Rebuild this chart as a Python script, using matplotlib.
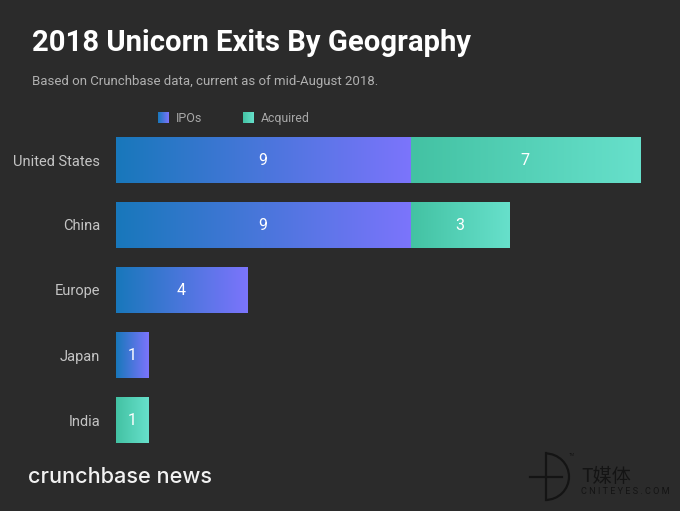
import numpy as np
import matplotlib
matplotlib.use('Agg')
import matplotlib.pyplot as plt
from matplotlib.colors import LinearSegmentedColormap
from matplotlib.patches import Arc

countries = ['United States', 'China', 'Europe', 'Japan', 'India']
ipos = [9, 9, 4, 1, 0]
acquired = [7, 3, 0, 0, 1]

BG = '#2b2b2b'
ipo_cmap = LinearSegmentedColormap.from_list('ipo', ['#1878bb', '#7c74fc'])
acq_cmap = LinearSegmentedColormap.from_list('acq', ['#43c2a3', '#67e0cb'])
ramp = np.linspace(0, 1, 256).reshape(1, -1)

W, H = 680, 511


def grad_bar(ax, left, width, y, height, cmap):
    # imshow with an extent, one stretched row of colour
    ax.imshow(ramp, cmap=cmap, aspect='auto', interpolation='bilinear',
              extent=(left, left + width, y + height / 2, y - height / 2), zorder=2)


fig = plt.figure(figsize=(W / 100, H / 100), dpi=100, facecolor=BG)
plt.rcParams['font.family'] = ['Roboto', 'DejaVu Sans']

# chart axes, one unit is 32.8 px and one row 65 px
ax = fig.add_axes([116 / W, 1 - 452.5 / H, 564 / W, 325 / H])
ax.set_facecolor('none')
bar_h = 45.5 / 65
for i, country in enumerate(countries):
    if ipos[i]:
        grad_bar(ax, 0, ipos[i], i, bar_h, ipo_cmap)
        ax.text(ipos[i] / 2 - 0.02, i + 0.015, str(ipos[i]), color='white', fontsize=11.5,
                ha='center', va='center', zorder=3)
    if acquired[i]:
        grad_bar(ax, ipos[i], acquired[i], i, bar_h, acq_cmap)
        ax.text(ipos[i] + acquired[i] / 2 - 0.02, i + 0.015, str(acquired[i]), color='white',
                fontsize=11.5, ha='center', va='center', zorder=3)
ax.set_xlim(0, 564 / 32.8)
ax.set_ylim(4.5, -0.5)
ax.set_yticks(range(len(countries)))
ax.set_yticklabels(countries, color='#c4c4c4', fontsize=10.5)
ax.set_xticks([])
ax.tick_params(axis='y', length=0, pad=11.5)
for s in ax.spines.values():
    s.set_visible(False)

# overlay in pixel coords for the header, legend and logos
ov = fig.add_axes([0, 0, 1, 1], zorder=5)
ov.set_xlim(0, W)
ov.set_ylim(H, 0)
ov.axis('off')
ov.patch.set_alpha(0)

ov.text(32, 43, '2018 Unicorn Exits By Geography', color='white', fontsize=21.1,
        fontweight='bold', ha='left', va='center')
ov.text(32, 82, 'Based on Crunchbase data, current as of mid-August 2018.',
        color='#b0b0b0', fontsize=9.55, ha='left', va='center')

ov.imshow(ramp, cmap=ipo_cmap, aspect='auto', extent=(158, 169, 123, 112))
ov.text(176, 118.5, 'IPOs', color='#a8a8a8', fontsize=9, ha='left', va='center')
ov.imshow(ramp, cmap=acq_cmap, aspect='auto', extent=(243, 254, 123, 112))
ov.text(261, 118.5, 'Acquired', color='#a8a8a8', fontsize=8.8, ha='left', va='center')
ov.set_xlim(0, W)
ov.set_ylim(H, 0)

ov.text(28, 477, 'crunchbase news', color='#f2f2f2', fontsize=15.6,
        family='Inter', fontweight='medium', ha='left', va='center')

# CNITEYES mark, drawn almost black
ink = '#141414'
ov.plot([545.5, 545.5], [453.5, 500], color=ink, lw=1.6)
ov.add_patch(Arc((545.5, 476.7), 47, 46.5, theta1=-90, theta2=90, color=ink, lw=1.6))
ov.plot([530, 562], [476.7, 476.7], color=ink, lw=1.6)
ov.text(569, 454.5, 'TM', color=ink, fontsize=3, ha='left', va='center')
ov.text(581, 476, 'T媒体', color=ink, fontsize=13.8, ha='left', va='center',
        family=['Noto Sans CJK SC', 'DejaVu Sans'])
ov.text(581, 491.5, 'C N I T E Y E S . C O M', color=ink, fontsize=6.6, ha='left', va='center')

fig.savefig('out.png', dpi=100, facecolor=BG)
